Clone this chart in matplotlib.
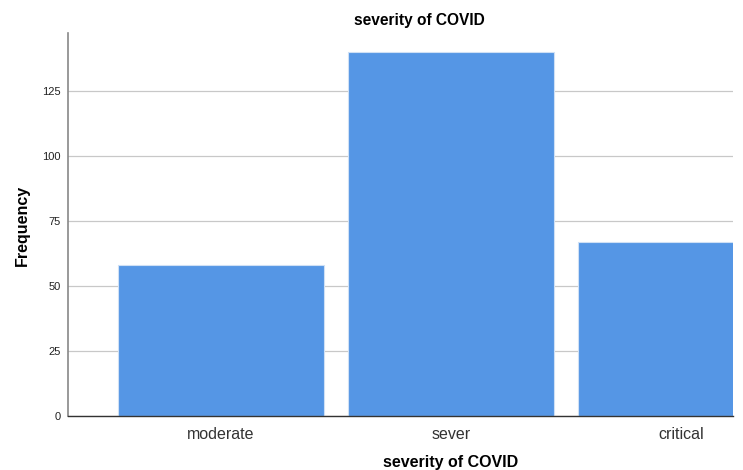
import matplotlib
matplotlib.use("Agg")
import matplotlib.pyplot as plt

categories = ["moderate", "sever", "critical"]
counts = [58, 140, 67]
yticks = [0, 25, 50, 75, 100, 125]

plt.rcParams['font.family'] = ['Liberation Sans', 'DejaVu Sans']

W, H = 743, 470
fig = plt.figure(figsize=(W/100, H/100), dpi=100)
ax = fig.add_axes([68/W, 1-416/H, (733-68)/W, (416-33)/H])

x = list(range(len(categories)))
ax.bar(x, counts, width=0.896, color="#5596e5", edgecolor="#cfe0f5", linewidth=0.8, zorder=3)

ax.set_xlim(-0.665, 2.226)
ax.set_ylim(0, 147.3)
ax.set_yticks(yticks)
ax.set_yticklabels([str(v) for v in yticks], fontsize=8, color="#222222")
ax.set_xticks(x)
ax.set_xticklabels(categories, fontsize=11.5, color="#333333")
ax.tick_params(axis='both', length=0)
ax.tick_params(axis='y', pad=5)
ax.tick_params(axis='x', pad=8)
ax.yaxis.grid(True, color="#c8c8c8", linewidth=0.9, zorder=0)
ax.set_axisbelow(True)

for s in ["top", "right"]:
    ax.spines[s].set_visible(False)
ax.spines["left"].set_color("#888888")
ax.spines["left"].set_linewidth(1.2)
ax.spines["bottom"].set_color("#333333")
ax.spines["bottom"].set_linewidth(1.0)
ax.spines["bottom"].set_zorder(4)

fig.text(419/W, 1-20/H, "severity of COVID", ha="center", va="center", fontsize=11.2, fontweight="bold")
fig.text(451/W, 1-463/H, "severity of COVID", ha="center", va="center", fontsize=11.5, fontweight="bold")
fig.text(22/W, 1-225/H, "Frequency", ha="center", va="center", rotation=90, fontsize=11.5, fontweight="bold")

fig.savefig("out.png", dpi=100)
